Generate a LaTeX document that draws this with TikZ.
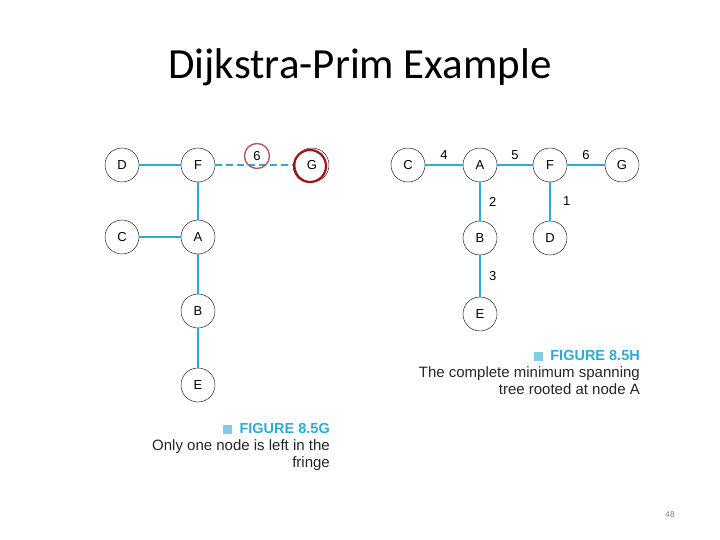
\documentclass[tikz,border=0pt]{standalone}
\usepackage{fontspec}
\setmainfont{Carlito}
\newfontfamily\helv{Liberation Sans}
\usetikzlibrary{positioning}
\definecolor{edgeblue}{RGB}{45,170,215}
\definecolor{markred}{RGB}{160,20,25}
\definecolor{labred}{RGB}{180,90,95}
\tikzset{
  vertex/.style={circle, draw, thin, minimum size=34pt, inner sep=0pt, font=\helv\fontsize{13}{15}\selectfont},
  tree/.style={edgeblue, line width=1.4pt},
  wlabel/.style={font=\helv\fontsize{13}{15}\selectfont, text=black},
  caphead/.style={font=\helv\bfseries\fontsize{14.5}{16}\selectfont, text=edgeblue},
  captext/.style={font=\helv\fontsize{15}{17}\selectfont, align=right, inner sep=0pt, text=black!85}
}
\begin{document}
\begin{tikzpicture}[x=1pt, y=-1pt]
\useasboundingbox (0,0) rectangle (720,540);
\node (title) at (360,67) {\fontsize{43}{48}\selectfont Dijkstra-Prim Example};

% Figure 8.5G
\node (lD) [vertex] at (122,165) {D};
\node (lF) [vertex] at (198,165) {F};
\node (lG) [vertex] at (312,165) {G};
\node (lC) [vertex] at (122,237) {C};
\node (lA) [vertex] at (198,237) {A};
\node (lB) [vertex] at (198,311) {B};
\node (lE) [vertex] at (198,385) {E};
\draw [tree] (lD) -- (lF);
\draw [tree] (lC) -- (lA);
\draw [tree] (lF) -- (lA);
\draw [tree] (lA) -- (lB);
\draw [tree] (lB) -- (lE);
\draw [tree, dash pattern=on 7pt off 4pt] (lF) -- (lG);
\node (l6) [circle, draw=labred, line width=1.4pt, minimum size=25pt, inner sep=0pt, font=\helv\fontsize{13}{15}\selectfont] at (257,156) {6};
\node (lGmark) [circle, draw=markred, line width=2.2pt, minimum size=32pt] at (310,166) {};

\node (capG) [caphead, anchor=east, inner sep=0pt] at (330,429) {FIGURE 8.5G};
\fill [edgeblue!60] ([xshift=-16pt]capG.west) ++(0,-4.5) rectangle ++(9,9);
\node (txtG) [captext, anchor=north east] at (330,439) {Only one node is left in the\\fringe};

% Figure 8.5H
\node (rC) [vertex] at (408,165) {C};
\node (rA) [vertex] at (480,165) {A};
\node (rF) [vertex] at (550,165) {F};
\node (rG) [vertex] at (622,165) {G};
\node (rB) [vertex] at (480,238) {B};
\node (rD) [vertex] at (550,238) {D};
\node (rE) [vertex] at (480,314) {E};
\draw [tree] (rC) -- node[wlabel, above=1pt] {4} (rA);
\draw [tree] (rA) -- node[wlabel, above=1pt] {5} (rF);
\draw [tree] (rF) -- node[wlabel, above=1pt] {6} (rG);
\draw [tree] (rA) -- node[wlabel, right=5pt] {2} (rB);
\draw [tree] (rF) -- node[wlabel, right=9pt] {1} (rD);
\draw [tree] (rB) -- node[wlabel, right=5pt] {3} (rE);

\node (capH) [caphead, anchor=east, inner sep=0pt] at (640,356) {FIGURE 8.5H};
\fill [edgeblue!60] ([xshift=-16pt]capH.west) ++(0,-4.5) rectangle ++(9,9);
\node (txtH) [captext, anchor=north east] at (640,366) {The complete minimum spanning\\tree rooted at node A};

\node (page) [font=\small, text=gray] at (670,514) {48};
\end{tikzpicture}
\end{document}
